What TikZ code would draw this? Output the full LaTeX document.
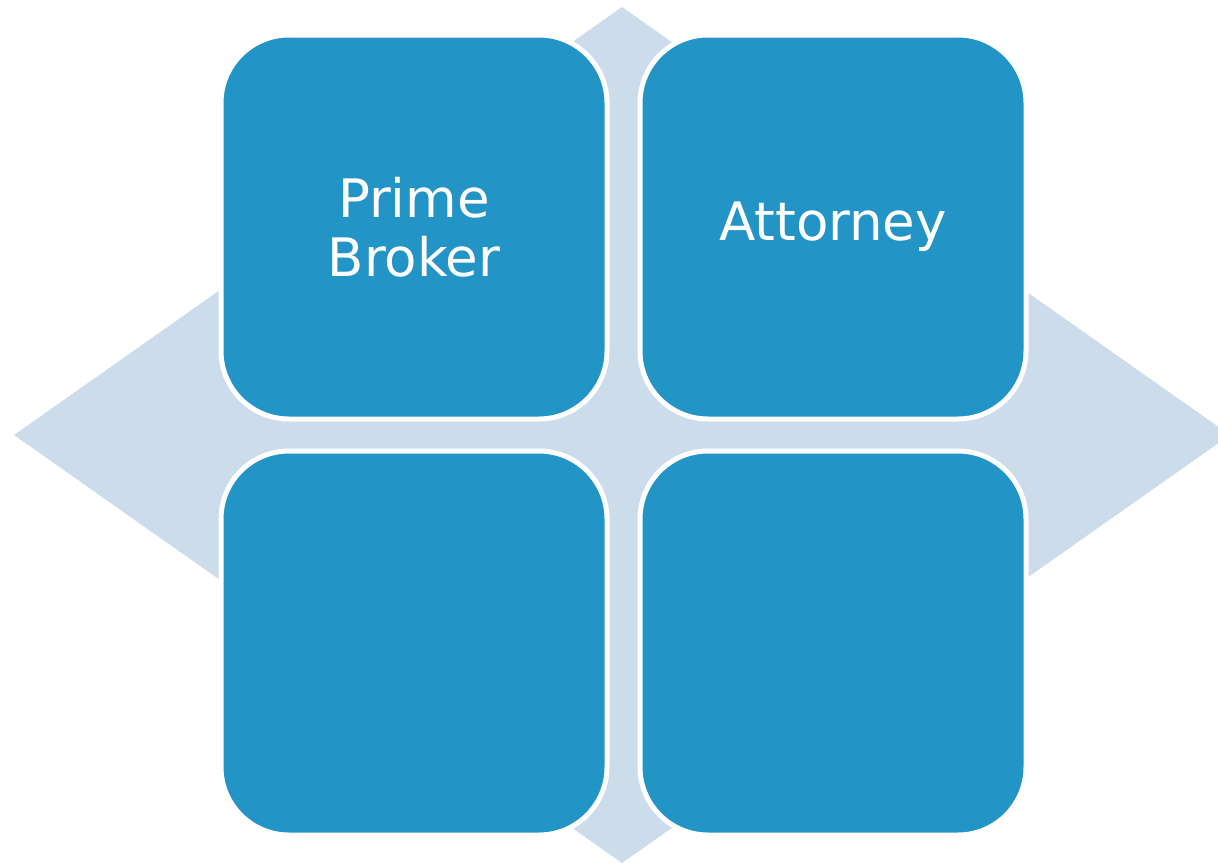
\documentclass[tikz,border=0pt]{standalone}
\usepackage{fontspec}
\setmainfont{DejaVu Sans}
\definecolor{boxblue}{HTML}{2394C6}
\definecolor{diamondblue}{HTML}{CDDCEA}
\begin{document}
\begin{tikzpicture}[x=1pt,y=-1pt,
  quad/.style={draw=white,line width=5pt,fill=boxblue,rounded corners=68pt,
    minimum width=386pt,minimum height=384pt,inner sep=0pt,
    text=white,align=center,font=\fontsize{53}{59}\selectfont},
  backdiamond/.style={fill=diamondblue,draw=none}]
\useasboundingbox (0,0) rectangle (1218,862);
\begin{scope}
\clip (0,0) rectangle (1218,862);
\coordinate (dl) at (14,435);
\coordinate (dt) at (622,7);
\coordinate (dr) at (1230,435);
\coordinate (db) at (622,863);
\fill[backdiamond] (dl) -- (dt) -- (dr) -- (db) -- cycle;
\end{scope}
\node[quad] (tl) at (414,227) {Prime\\Broker};
\node[quad] (tr) at (833,227) {Attorney};
\node[quad] (bl) at (414,643) {};
\node[quad] (br) at (833,643) {};
\end{tikzpicture}
\end{document}
